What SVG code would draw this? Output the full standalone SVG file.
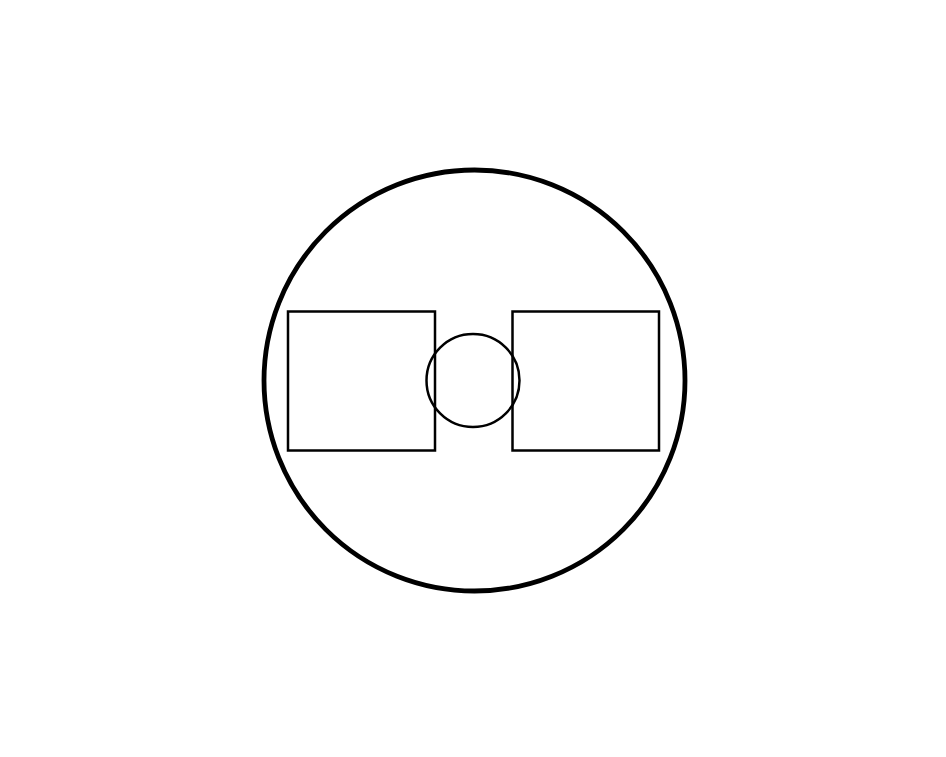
<svg xmlns="http://www.w3.org/2000/svg" width="946" height="757" viewBox="0 0 946 757">
<style>
.thin{fill:none;stroke:#000;stroke-width:2.5}
.thick{fill:none;stroke:#000;stroke-width:4.8}
</style>
<rect width="946" height="757" fill="#fff"/>
<g id="outer"><circle class="thick" cx="474.5" cy="380.5" r="210.5"/></g>
<g id="left-box"><rect class="thin" x="288" y="311.5" width="147" height="139"/></g>
<g id="right-box"><rect class="thin" x="512.5" y="311.5" width="146.5" height="139"/></g>
<g id="center"><circle class="thin" cx="473" cy="380.5" r="46.5"/></g>
<g id="connectors"/>
</svg>
